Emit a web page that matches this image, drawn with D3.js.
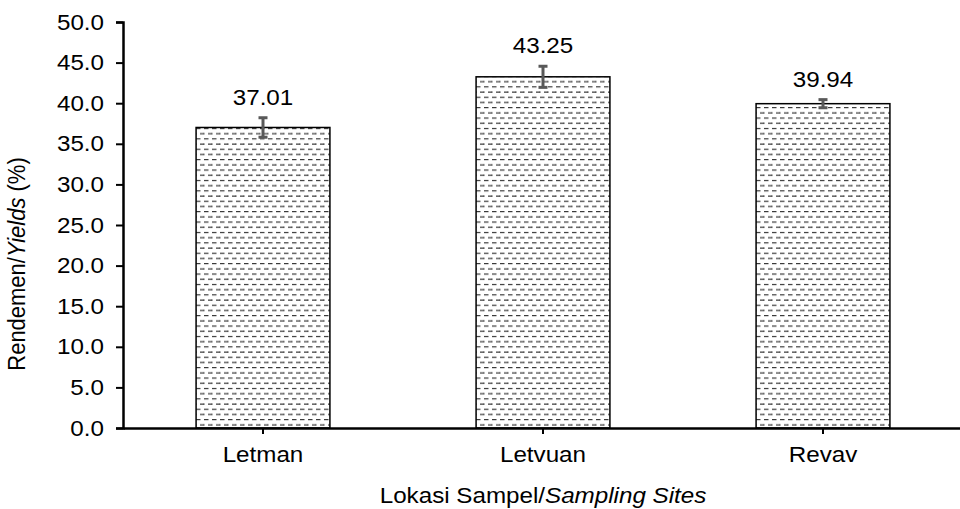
<!DOCTYPE html>
<html>
<head>
<meta charset="utf-8">
<script src="https://cdn.jsdelivr.net/npm/d3@7"></script>
<style>
  body { margin:0; background:#fff; }
  svg text { font-family: "Liberation Sans", Arial, sans-serif; fill:#000; }
</style>
</head>
<body>
<svg id="chart"></svg>
<script>
// data
var sites = ["Letman", "Letvuan", "Revav"];
var yields = [37.01, 43.25, 39.94];
var errors = [1.2, 1.3, 0.5];
var yTicks = [0, 5, 10, 15, 20, 25, 30, 35, 40, 45, 50];

var screen = {width:960, height:509};
var margins = {left:123, right:-3, top:22, bottom:81};
var graph = {
    width: screen.width - margins.left - margins.right,
    height: screen.height - margins.top - margins.bottom
};
//text in the picture is a bit wide, so stretch it sideways
var fontSize = "22px";
var stretch = 1.1;

var svg = d3.select("#chart")
    .attr("width", screen.width)
    .attr("height", screen.height);

//dash pattern for the bars
var defs = svg.append("defs");
var pat = defs.append("pattern")
    .attr("id", "dashes")
    .attr("patternUnits", "userSpaceOnUse")
    .attr("width", 8)
    .attr("height", 10.4);
pat.append("rect").attr("width", 8).attr("height", 10.4).attr("fill", "#fff");
pat.append("line")
    .attr("x1", 1).attr("x2", 5.5).attr("y1", 2.5).attr("y2", 2.5)
    .attr("stroke", "#111").attr("stroke-width", 1);
pat.append("line")
    .attr("x1", 5).attr("x2", 9.5).attr("y1", 7.7).attr("y2", 7.7)
    .attr("stroke", "#111").attr("stroke-width", 1);
pat.append("line")
    .attr("x1", -3).attr("x2", 1.5).attr("y1", 7.7).attr("y2", 7.7)
    .attr("stroke", "#111").attr("stroke-width", 1);

var target = svg.append("g")
    .attr("transform", "translate(" + margins.left + "," + margins.top + ")");

var xScale = d3.scaleBand()
    .domain(sites)
    .range([0, graph.width])
    .paddingInner(0.522)
    .paddingOuter(0.261);

var yScale = d3.scaleLinear()
    .domain([0, 50])
    .range([graph.height, 0]);

var data = sites.map(function(s, i) {
    return {site:s, value:yields[i], err:errors[i]};
});

//bars
target.selectAll("rect.bar")
    .data(data)
    .enter()
    .append("rect")
    .attr("class", "bar")
    .attr("x", function(d) { return xScale(d.site); })
    .attr("y", function(d) { return yScale(d.value); })
    .attr("width", xScale.bandwidth())
    .attr("height", function(d) { return graph.height - yScale(d.value); })
    .attr("fill", "url(#dashes)")
    .attr("stroke", "#000")
    .attr("stroke-width", 1.5);

//error bars
var eb = target.selectAll("g.err")
    .data(data)
    .enter()
    .append("g")
    .attr("class", "err")
    .attr("stroke", "#595959")
    .attr("stroke-width", 3);
var cx = function(d) { return xScale(d.site) + xScale.bandwidth() / 2; };
eb.append("line")
    .attr("x1", cx).attr("x2", cx)
    .attr("y1", function(d) { return yScale(d.value + d.err); })
    .attr("y2", function(d) { return yScale(d.value - d.err); });
eb.append("line")
    .attr("x1", function(d) { return cx(d) - 4.5; })
    .attr("x2", function(d) { return cx(d) + 4.5; })
    .attr("y1", function(d) { return yScale(d.value + d.err); })
    .attr("y2", function(d) { return yScale(d.value + d.err); });
eb.append("line")
    .attr("x1", function(d) { return cx(d) - 4.5; })
    .attr("x2", function(d) { return cx(d) + 4.5; })
    .attr("y1", function(d) { return yScale(d.value - d.err); })
    .attr("y2", function(d) { return yScale(d.value - d.err); });

//value labels
target.selectAll("g.val")
    .data(data)
    .enter()
    .append("g")
    .attr("class", "val")
    .attr("transform", function(d) {
        return "translate(" + cx(d) + "," + (yScale(d.value + d.err) - 13) + ") scale(" + stretch + ",1)";
    })
    .append("text")
    .attr("text-anchor", "middle")
    .style("font-size", fontSize)
    .text(function(d) { return d.value.toFixed(2); });

//axes
var xAxis = d3.axisBottom(xScale).tickSize(6).tickSizeOuter(0);
var gx = target.append("g")
    .attr("transform", "translate(0," + graph.height + ")")
    .call(xAxis);
gx.select(".domain").attr("stroke-width", 2.5);
gx.selectAll(".tick line").attr("stroke-width", 2);
gx.selectAll(".tick text")
    .attr("y", 18)
    .attr("dy", "0.71em")
    .attr("transform", "scale(" + stretch + ",1)")
    .style("font-size", fontSize);

var yAxis = d3.axisLeft(yScale)
    .tickValues(yTicks)
    .tickFormat(d3.format(".1f"))
    .tickSize(7)
    .tickSizeOuter(7);
var gy = target.append("g").call(yAxis);
gy.select(".domain").attr("stroke-width", 2.5);
gy.selectAll(".tick line").attr("stroke-width", 2);
gy.selectAll(".tick text")
    .attr("x", -19 / stretch)
    .attr("transform", "scale(" + stretch + ",1)")
    .style("font-size", fontSize);
gx.raise();

//axis titles
var xt = svg.append("g")
    .attr("transform", "translate(" + (margins.left + xScale("Letvuan") + xScale.bandwidth() / 2) + ",503) scale(" + stretch + ",1)")
    .append("text")
    .attr("text-anchor", "middle")
    .style("font-size", fontSize);
xt.append("tspan").text("Lokasi Sampel/");
xt.append("tspan").style("font-style", "italic").text("Sampling Sites");

var yt = svg.append("g")
    .attr("transform", "translate(25,264) scale(" + stretch + ",1)")
    .append("text")
    .attr("transform", "rotate(-90)")
    .attr("text-anchor", "middle")
    .style("font-size", fontSize);
yt.append("tspan").text("Rendemen/");
yt.append("tspan").style("font-style", "italic").text("Yields");
yt.append("tspan").text(" (%)");
</script>
</body>
</html>
